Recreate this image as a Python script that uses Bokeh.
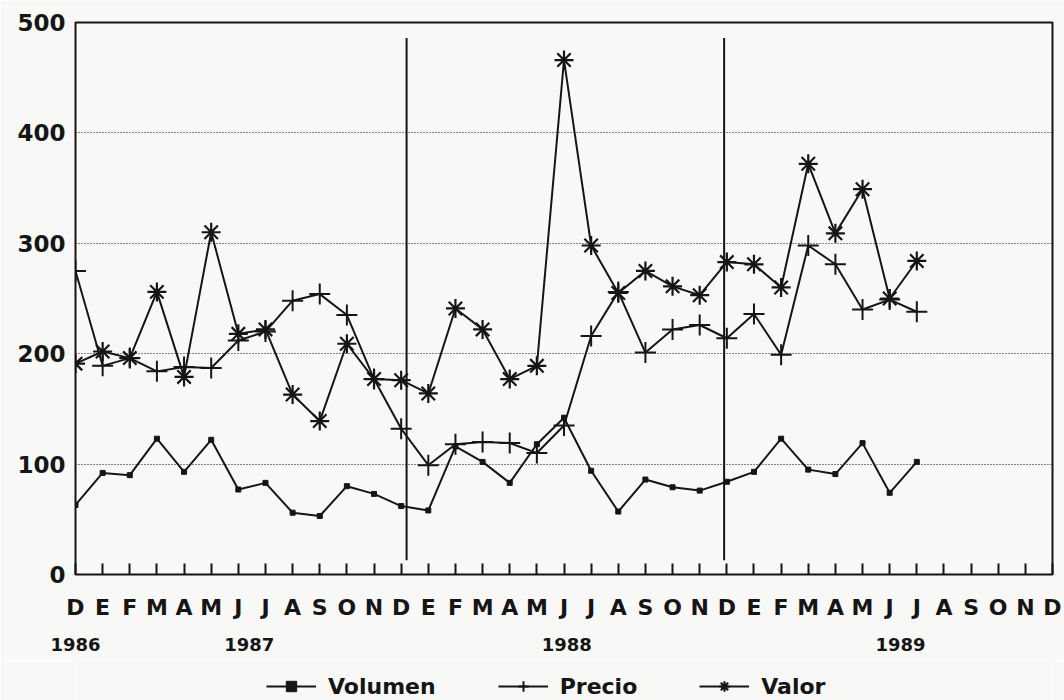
from bokeh.plotting import figure
from bokeh.layouts import column
from bokeh.models import Range1d, FixedTicker, LinearAxis, Legend, LegendItem, ColumnDataSource
from bokeh.embed import file_html
from bokeh.resources import INLINE

# ---- data ----
month_labels = ["D",
                "E", "F", "M", "A", "M", "J", "J", "A", "S", "O", "N", "D",
                "E", "F", "M", "A", "M", "J", "J", "A", "S", "O", "N", "D",
                "E", "F", "M", "A", "M", "J", "J", "A", "S", "O", "N", "D"]
year_labels = ["1986", "1987", "1988", "1989"]
year_label_pos = [0, 6.4, 18.1, 30.4]
year_breaks = [12.2, 23.9]
year_break_low = [13, 13]
year_break_high = [486, 486]
series_names = ["Volumen", "Precio", "Valor"]

volumen = [63, 92, 90, 123, 93, 122, 77, 83, 56, 53, 80, 73, 62,
           58, 116, 102, 83, 118, 142, 94, 57, 86, 79, 76, 84,
           93, 123, 95, 91, 119, 74, 102]
precio = [275, 189, 196, 184, 188, 187, 212, 220, 248, 254, 235, 177, 132,
          99, 118, 120, 119, 110, 135, 216, 256, 201, 222, 226, 214,
          236, 199, 298, 281, 240, 249, 238]
valor = [191, 202, 196, 256, 179, 310, 218, 222, 163, 139, 209, 177, 176,
         164, 241, 222, 177, 189, 466, 298, 255, 275, 261, 253, 283,
         281, 260, 372, 309, 349, 250, 284]

idx = list(range(len(volumen)))
src = ColumnDataSource(dict(x=idx, volumen=volumen, precio=precio, valor=valor))

FONT = "DejaVu Sans"
INK = "#151515"
BG = "#f8f8f6"
MARKERS = [dict(marker="square", size=5, line_width=1),
           dict(marker="cross", size=21, line_width=2),
           dict(marker="asterisk", size=19, line_width=2.2)]

p = figure(width=1064, height=660, x_range=Range1d(0, 36), y_range=Range1d(0, 500),
           output_backend="svg", toolbar_location=None,
           min_border_left=75, min_border_right=12, min_border_top=22, min_border_bottom=86,
           x_axis_location=None, y_axis_location=None)
p.background_fill_color = BG
p.border_fill_color = BG
p.outline_line_color = INK
p.outline_line_width = 2

# y axis
yax = LinearAxis(ticker=FixedTicker(ticks=[0, 100, 200, 300, 400, 500]))
yax.axis_line_color = None
yax.major_tick_line_color = None
yax.minor_tick_line_color = None
yax.major_label_standoff = 4
yax.major_label_text_font = FONT
yax.major_label_text_font_style = "bold"
yax.major_label_text_font_size = "23px"
yax.major_label_text_color = INK
p.add_layout(yax, "left")

# month axis
xax = LinearAxis(ticker=FixedTicker(ticks=list(range(len(month_labels)))))
xax.major_label_overrides = {i: m for i, m in enumerate(month_labels)}
xax.axis_line_color = None
xax.major_tick_in = 11
xax.major_tick_out = 0
xax.major_tick_line_color = INK
xax.major_tick_line_width = 2
xax.minor_tick_line_color = None
xax.major_label_standoff = 20
xax.major_label_text_font = FONT
xax.major_label_text_font_style = "bold"
xax.major_label_text_font_size = "22px"
xax.major_label_text_color = INK
p.add_layout(xax, "below")

# year axis
yr = LinearAxis(ticker=FixedTicker(ticks=year_label_pos))
yr.major_label_overrides = {pos: lab for pos, lab in zip(year_label_pos, year_labels)}
yr.axis_line_color = None
yr.major_tick_line_color = None
yr.minor_tick_line_color = None
yr.major_label_standoff = 9
yr.major_label_text_font = FONT
yr.major_label_text_font_style = "bold"
yr.major_label_text_font_size = "18px"
yr.major_label_text_color = INK
p.add_layout(yr, "below")

# grid
p.xgrid.visible = False
p.ygrid.ticker = FixedTicker(ticks=[100, 200, 300, 400])
p.ygrid.grid_line_color = INK
p.ygrid.grid_line_dash = "1 2"
p.ygrid.grid_line_width = 1.2

# year separators
p.segment(x0=year_breaks, y0=year_break_low, x1=year_breaks, y1=year_break_high,
          line_color=INK, line_width=2)

# series
for col, mk in zip(["volumen", "precio", "valor"], MARKERS):
    p.line("x", col, source=src, line_color=INK, line_width=2)
    p.scatter("x", col, source=src, color=INK, **mk)

# legend strip (separate figure so the legend can sit below the axis labels)
lf = figure(width=1064, height=40, x_range=Range1d(0, 1), y_range=Range1d(0, 1),
            output_backend="svg", toolbar_location=None,
            min_border_left=0, min_border_right=0, min_border_top=0, min_border_bottom=0,
            x_axis_location=None, y_axis_location=None)
lf.background_fill_color = BG
lf.border_fill_color = BG
lf.outline_line_color = None
lf.xgrid.visible = False
lf.ygrid.visible = False
dummy = ColumnDataSource(dict(x=[float("nan")], y=[float("nan")]))
items = []
for name, mk in zip(series_names, MARKERS):
    ln = lf.line("x", "y", source=dummy, line_color=INK, line_width=2)
    sc = lf.scatter("x", "y", source=dummy, color=INK, **mk)
    items.append(LegendItem(label=name, renderers=[ln, sc]))

legend = Legend(items=items, orientation="horizontal", location=(191, 1))
legend.background_fill_alpha = 0
legend.border_line_color = None
legend.padding = 0
legend.margin = 0
legend.spacing = 62
legend.glyph_width = 50
legend.glyph_height = 26
legend.label_standoff = 12
legend.label_text_font = FONT
legend.label_text_font_style = "bold"
legend.label_text_font_size = "22px"
legend.label_text_color = INK
lf.add_layout(legend, "center")

layout = column(p, lf, spacing=0)
open("out.html", "w").write(file_html(layout, INLINE))
